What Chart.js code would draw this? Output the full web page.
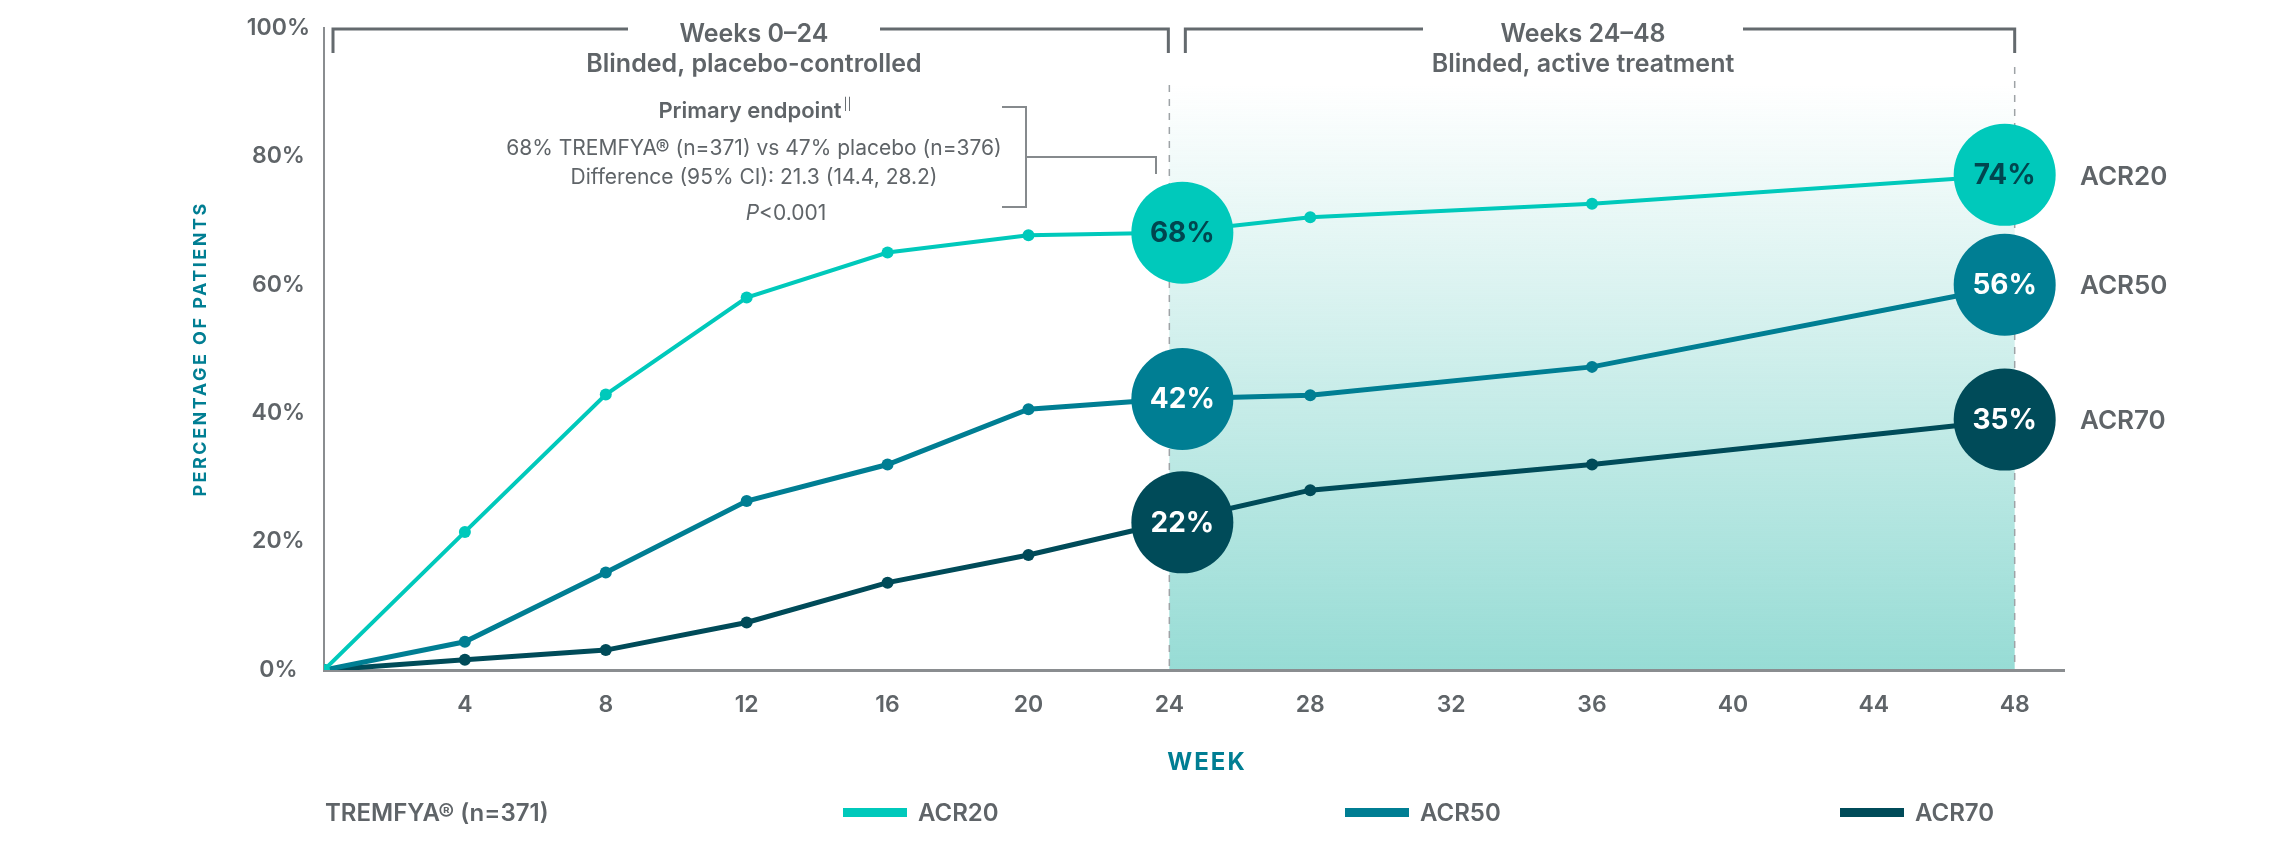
<!DOCTYPE html>
<html>
<head>
<meta charset="utf-8">
<script src="https://cdn.jsdelivr.net/npm/chart.js@4.4.1/dist/chart.umd.min.js"></script>
<style>
html, body { margin: 0; padding: 0; background: #fff; }
</style>
</head>
<body>
<canvas id="graph" width="2272" height="848"></canvas>
<script>
// Weeks (x axis)
var weeks = [0, 4, 8, 12, 16, 20, 24, 28, 36, 48];
// Percentage of patients reaching each response
var acr20 = [0, 21.5, 42.9, 58, 65, 67.7, 68.1, 70.5, 72.6, 77.1];
var acr50 = [0, 4.4, 15.2, 26.3, 32, 40.6, 42.2, 42.8, 47.2, 60];
var acr70 = [0, 1.6, 3.1, 7.4, 13.6, 17.9, 23, 28, 32, 39];
// Callout bubbles at week 24 and week 48
var calloutWeeks = [24, 48];
var acr20Callouts = ['68%', '74%'];
var acr50Callouts = ['42%', '56%'];
var acr70Callouts = ['22%', '35%'];
// Axis ticks
var xTicks = [4, 8, 12, 16, 20, 24, 28, 32, 36, 40, 44, 48];
var yTicks = [0, 20, 40, 60, 80, 100];
var seriesNames = ['ACR20', 'ACR50', 'ACR70'];

var grey = '#5f6468';
var axisGrey = '#8a8d90';
var colors = ['#00c9bb', '#007e93', '#004b59'];
var bubbleText = ['#00464f', '#ffffff', '#ffffff'];
var bubbleShift = [13, -10]; // bubbles sit a little off the week line
var FONT = 'Inter, "Open Sans", sans-serif';

function makeSet(name, values, color, width) {
    return {
        label: name,
        data: values.map(function (v, i) { return { x: weeks[i], y: v }; }),
        borderColor: color,
        backgroundColor: color,
        borderWidth: width,
        pointRadius: 6,
        pointHoverRadius: 6,
        pointBackgroundColor: color,
        pointBorderWidth: 0,
        fill: false,
        tension: 0,
    };
}

function txt(ctx, s, x, y, font, color, align) {
    ctx.font = font;
    ctx.fillStyle = color;
    ctx.textAlign = align || 'center';
    ctx.textBaseline = 'middle';
    ctx.fillText(s, x, y);
}

function line(ctx, pts, color, width) {
    ctx.beginPath();
    ctx.moveTo(pts[0][0], pts[0][1]);
    for (var i = 1; i < pts.length; i++) ctx.lineTo(pts[i][0], pts[i][1]);
    ctx.strokeStyle = color;
    ctx.lineWidth = width;
    ctx.stroke();
}

// Shaded weeks 24-48 band and dashed separators
var bandPlugin = {
    id: 'band',
    beforeDraw: function (chart) {
        var ctx = chart.ctx;
        var xs = chart.scales.x;
        var area = chart.chartArea;
        var xa = xs.getPixelForValue(calloutWeeks[0]);
        var xb = xs.getPixelForValue(calloutWeeks[1]);
        var top = 85;
        ctx.save();
        var g = ctx.createLinearGradient(0, top, 0, area.bottom);
        g.addColorStop(0, 'rgba(151,220,213,0)');
        g.addColorStop(1, 'rgba(151,220,213,1)');
        ctx.fillStyle = g;
        ctx.fillRect(xa, top, xb - xa, area.bottom - top);
        ctx.setLineDash([7, 7]);
        line(ctx, [[xa, 85], [xa, area.bottom]], '#9ea3a6', 1.5);
        line(ctx, [[xb, 67], [xb, area.bottom]], '#9ea3a6', 1.5);
        ctx.restore();
    }
};

// Bubbles, text, brackets and legend
var decorPlugin = {
    id: 'decor',
    afterDatasetsDraw: function (chart) {
        var ctx = chart.ctx;
        var xs = chart.scales.x;
        var area = chart.chartArea;
        ctx.save();

        // callout bubbles on the week 24 / 48 points
        var callouts = [acr20Callouts, acr50Callouts, acr70Callouts];
        chart.data.datasets.forEach(function (ds, di) {
            var meta = chart.getDatasetMeta(di);
            calloutWeeks.forEach(function (w, ci) {
                var pt = meta.data[weeks.indexOf(w)];
                var cx = pt.x + bubbleShift[ci];
                ctx.beginPath();
                ctx.arc(cx, pt.y, 51, 0, Math.PI * 2);
                ctx.fillStyle = colors[di];
                ctx.fill();
                txt(ctx, callouts[di][ci], cx, pt.y + 1, '700 28px ' + FONT, bubbleText[di]);
            });
            var last = meta.data[weeks.length - 1];
            txt(ctx, seriesNames[di], 2080, last.y + 2, '600 26px ' + FONT, grey, 'left');
        });

        // top brackets
        var x0 = xs.getPixelForValue(0);
        var x24 = xs.getPixelForValue(24);
        var x48 = xs.getPixelForValue(48);
        var by = 29, bt = 53;
        line(ctx, [[x0 + 9, bt], [x0 + 9, by], [628, by]], '#646a6e', 3);
        line(ctx, [[880, by], [x24 - 1, by], [x24 - 1, bt]], '#646a6e', 3);
        line(ctx, [[x24 + 16, bt], [x24 + 16, by], [1423, by]], '#646a6e', 3);
        line(ctx, [[1743, by], [x48, by], [x48, bt]], '#646a6e', 3);
        txt(ctx, 'Weeks 0–24', 754, 34, '600 25px ' + FONT, grey);
        txt(ctx, 'Blinded, placebo-controlled', 754, 64, '600 25px ' + FONT, grey);
        txt(ctx, 'Weeks 24–48', 1583, 34, '600 25px ' + FONT, grey);
        txt(ctx, 'Blinded, active treatment', 1583, 64, '600 25px ' + FONT, grey);

        // primary endpoint note
        ctx.font = '600 22px ' + FONT;
        var pw = ctx.measureText('Primary endpoint').width;
        txt(ctx, 'Primary endpoint', 750, 111, '600 22px ' + FONT, grey);
        txt(ctx, '||', 750 + pw / 2 + 2, 104, '400 12px ' + FONT, grey, 'left');
        txt(ctx, '68% TREMFYA® (n=371) vs 47% placebo (n=376)', 754, 149, '400 21px ' + FONT, grey);
        txt(ctx, 'Difference (95% CI): 21.3 (14.4, 28.2)', 754, 178, '400 21px ' + FONT, grey);
        ctx.font = 'italic 400 21px ' + FONT;
        var iw = ctx.measureText('P').width;
        ctx.font = '400 21px ' + FONT;
        var rw = ctx.measureText('<0.001').width;
        var sx = 786 - (iw + rw) / 2;
        txt(ctx, 'P', sx, 214, 'italic 400 21px ' + FONT, grey, 'left');
        txt(ctx, '<0.001', sx + iw, 214, '400 21px ' + FONT, grey, 'left');
        line(ctx, [[1002, 107], [1026, 107], [1026, 207], [1002, 207]], '#868a8d', 2);
        line(ctx, [[1026, 157], [1156, 157], [1156, 174]], '#868a8d', 2);

        // axis titles
        ctx.save();
        ctx.translate(201, (area.top + area.bottom) / 2);
        ctx.rotate(-Math.PI / 2);
        ctx.letterSpacing = '2.5px';
        txt(ctx, 'PERCENTAGE OF PATIENTS', 0, 0, '700 18px ' + FONT, '#007e93');
        ctx.restore();
        ctx.save();
        ctx.letterSpacing = '2px';
        txt(ctx, 'WEEK', 1207, 763, '700 24px ' + FONT, '#007e93');
        ctx.restore();

        // legend
        txt(ctx, 'TREMFYA® (n=371)', 325, 814, '600 24px ' + FONT, grey, 'left');
        var lx = [843, 1345, 1840];
        seriesNames.forEach(function (n, i) {
            ctx.fillStyle = colors[i];
            ctx.fillRect(lx[i], 808, 64, 9);
            txt(ctx, n, lx[i] + 75, 814, '600 24px ' + FONT, grey, 'left');
        });
        ctx.restore();
    }
};

var config = {
    type: 'line',
    data: {
        datasets: [
            makeSet(seriesNames[0], acr20, colors[0], 4),
            makeSet(seriesNames[1], acr50, colors[1], 5),
            makeSet(seriesNames[2], acr70, colors[2], 5),
        ],
    },
    options: {
        responsive: false,
        devicePixelRatio: 1,
        animation: false,
        layout: { padding: { top: 15, right: 208, left: 0, bottom: 0 } },
        plugins: { legend: { display: false }, tooltip: { enabled: false } },
        scales: {
            x: {
                type: 'linear',
                min: 0,
                max: 49.4,
                afterBuildTicks: function (axis) { axis.ticks = xTicks.map(function (v) { return { value: v }; }); },
                afterFit: function (s) { s.height = 178; },
                grid: { display: false, drawTicks: false },
                border: { display: true, color: axisGrey, width: 3 },
                ticks: {
                    autoSkip: false,
                    maxRotation: 0,
                    padding: 21,
                    color: grey,
                    font: { family: FONT, size: 23, weight: '600' },
                },
            },
            y: {
                min: 0,
                max: 100,
                afterBuildTicks: function (axis) { axis.ticks = yTicks.map(function (v) { return { value: v }; }); },
                afterFit: function (s) { s.width = 324; },
                grid: { display: false, drawTicks: false },
                border: { display: true, color: axisGrey, width: 2 },
                ticks: {
                    padding: 14,
                    crossAlign: 'center',
                    color: grey,
                    font: { family: FONT, size: 23, weight: '600' },
                    callback: function (v) { return v + '%'; },
                },
            },
        },
    },
    plugins: [bandPlugin, decorPlugin],
};

new Chart(document.getElementById('graph'), config);
</script>
</body>
</html>
